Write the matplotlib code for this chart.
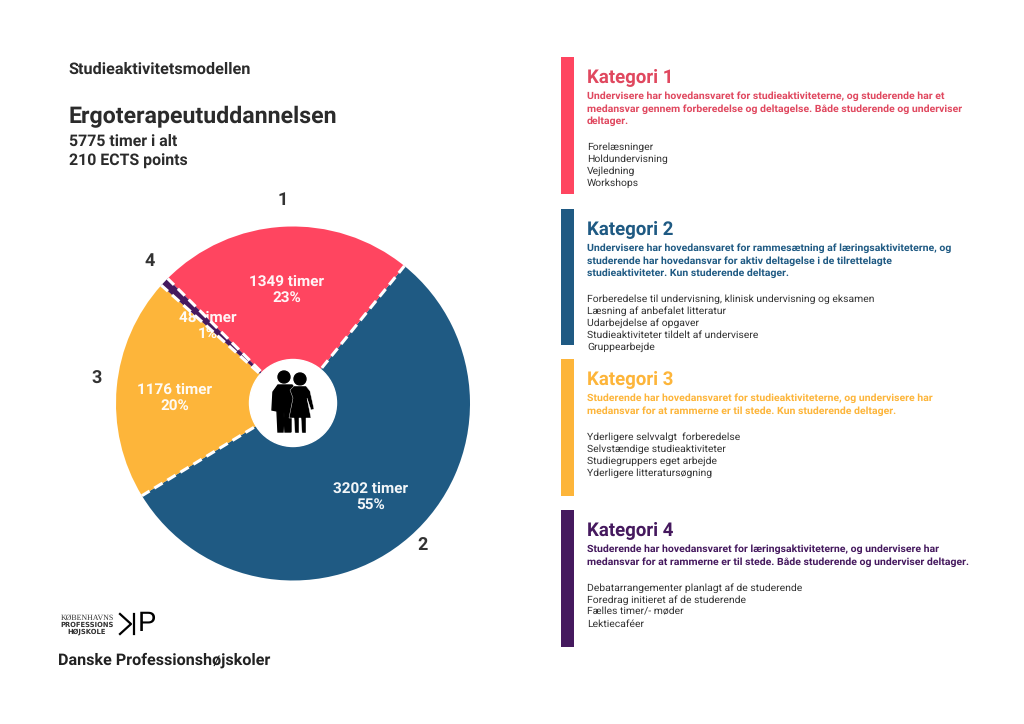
import matplotlib
matplotlib.use("Agg")
import matplotlib.pyplot as plt
from matplotlib.patches import Circle, Rectangle, Polygon
import numpy as np

plt.rcParams['font.family'] = ['Roboto', 'DejaVu Sans']
plt.rcParams['text.hinting'] = 'no_hinting'
plt.rcParams['text.hinting_factor'] = 8

# data
categories = ["1", "2", "3", "4"]
hours = [1349, 3202, 1176, 48]
colors = ["#FF4560", "#1F5A83", "#FDB53A", "#45195E"]
text_colors = ["#E0485F", "#1F5A83", "#FDB53A", "#45195E"]
headings = ["Kategori 1", "Kategori 2", "Kategori 3", "Kategori 4"]
descriptions = [
    ["Undervisere har hovedansvaret for studieaktiviteterne, og studerende har et",
     "medansvar gennem forberedelse og deltagelse. Både studerende og underviser",
     "deltager."],
    ["Undervisere har hovedansvaret for rammesætning af læringsaktiviteterne, og",
     "studerende har hovedansvar for aktiv deltagelse i de tilrettelagte",
     "studieaktiviteter. Kun studerende deltager."],
    ["Studerende har hovedansvaret for studieaktiviteterne, og undervisere har",
     "medansvar for at rammerne er til stede. Kun studerende deltager."],
    ["Studerende har hovedansvaret for læringsaktiviteterne, og undervisere har",
     "medansvar for at rammerne er til stede. Både studerende og underviser deltager."],
]
activities = [
    ["Forelæsninger", "Holdundervisning", "Vejledning", "Workshops"],
    ["Forberedelse til undervisning, klinisk undervisning og eksamen",
     "Læsning af anbefalet litteratur", "Udarbejdelse af opgaver",
     "Studieaktiviteter tildelt af undervisere", "Gruppearbejde"],
    ["Yderligere selvvalgt  forberedelse", "Selvstændige studieaktiviteter",
     "Studiegruppers eget arbejde", "Yderligere litteratursøgning"],
    ["Debatarrangementer planlagt af de studerende", "Foredrag initieret af de studerende",
     "Fælles timer/- møder", "Lektiecaféer"],
]

W, H = 1024, 724
cx, cy, r = 293, 403.5, 177

fig = plt.figure(figsize=(W / 100, H / 100), dpi=100, facecolor="white")

# pie axes sits exactly over the circle, overlay is in pixels
ax = fig.add_axes([(cx - r) / W, (H - cy - r) / H, 2 * r / W, 2 * r / H])
ov = fig.add_axes([0, 0, 1, 1], zorder=3)
ov.set_xlim(0, W)
ov.set_ylim(H, 0)
ov.axis("off")
ov.patch.set_alpha(0)

# clockwise from the 1/2 boundary
order = [1, 2, 3, 0]
start = 51
wedges, _ = ax.pie([hours[i] for i in order], colors=[colors[i] for i in order],
                   startangle=start, counterclock=False, radius=1)
ax.set_xlim(-1, 1)
ax.set_ylim(-1, 1)
wedges[2].set_zorder(5)

# dashed white boundaries
total = sum(hours)
ang = start
for i in order:
    t = np.deg2rad(ang)
    ax.plot([0, np.cos(t)], [0, np.sin(t)], color="white", lw=2.2,
            dashes=(3.2, 1.8), zorder=6)
    ang -= hours[i] / total * 360

# values in the slices
label_pos = [(287, 290), (371, 497), (175, 398), (208, 326)]
for i in range(4):
    pct = round(hours[i] / total * 100)
    ax.text(label_pos[i][0], label_pos[i][1], f"{hours[i]} timer\n{pct}%",
            transform=ov.transData, color="white", fontsize=11, fontweight="bold",
            ha="center", va="center", linespacing=1.15, alpha=0.95, zorder=4)

# slice numbers
num_pos = [(283, 200), (423, 545), (97, 379), (150, 261)]
for c, p in zip(categories, num_pos):
    ov.text(p[0], p[1], c, color="#333333", fontsize=13, fontweight="bold",
            ha="center", va="center")

# centre icon
ov.add_patch(Circle((293, 403), 43.5, color="white", zorder=2))
ink = "black"
ov.add_patch(Circle((284, 377), 6, color=ink, zorder=3))
ov.add_patch(Circle((300, 379), 6, color=ink, zorder=3))
ov.add_patch(Polygon([(272, 410), (273, 392), (278, 385), (292, 385), (296, 390), (291, 405),
                      (291, 432), (285, 432), (284, 412), (283, 432), (278, 432), (277, 411)],
                     color=ink, zorder=3))
ov.add_patch(Polygon([(290, 390), (294, 386), (306, 386), (310, 391), (314, 409), (311, 410),
                      (307, 398), (311, 418), (306, 418), (306, 433), (302, 433), (301, 418),
                      (299, 418), (299, 433), (295, 433), (294, 418), (289, 418), (293, 398)],
                     color=ink, zorder=3, ec="white", lw=0.3))

# headings left
dark = "#2B2B2B"
ov.text(68.5, 69.5, "Studieaktivitetsmodellen", color=dark, fontsize=11.7, fontweight="bold", va="center")
ov.text(68.5, 116.5, "Ergoterapeutuddannelsen", color=dark, fontsize=16.7, fontweight="bold", va="center")
ov.text(69, 141.5, "5775 timer i alt", color=dark, fontsize=11.4, fontweight="bold", va="center")
ov.text(69, 161.5, "210 ECTS points", color=dark, fontsize=11.4, fontweight="bold", va="center")

# logos
ov.text(87, 619.5, "KØBENHAVNS", family="Liberation Serif", color="#333333", fontsize=5.7, ha="center", va="baseline")
ov.text(87, 626.5, "PROFESSIONS", family="DejaVu Sans", color="#333333", fontsize=4.9, fontweight="bold", ha="center", va="baseline")
ov.text(87, 633.5, "HØJSKOLE", family="DejaVu Sans", color="#333333", fontsize=4.9, fontweight="bold", ha="center", va="baseline")
ov.plot([134, 134], [614, 634], color="black", lw=1.6)
ov.plot([120, 131, 120], [614, 624, 634], color="black", lw=1.6)
ov.text(138, 624, "P", family="Liberation Sans", color="black", fontsize=20, ha="left", va="center")
ov.text(58, 660, "Danske Professionshøjskoler", color="#222222", fontsize=11.6, fontweight="bold", va="center")

# category panels
bar_top = [57, 209, 359, 510]
bar_bottom = [194, 345, 496, 647]
for i in range(4):
    ov.add_patch(Rectangle((561, bar_top[i]), 13, bar_bottom[i] - bar_top[i], color=colors[i], lw=0))
    ov.text(587, bar_top[i] + 20, headings[i], color=text_colors[i], fontsize=13.4, fontweight="bold", va="center")
    y = bar_top[i] + 39.5
    for line in descriptions[i]:
        ov.text(587, y, line, color=text_colors[i], fontsize=7.52, fontweight="bold", va="center")
        y += 12.3
    y += 13.9
    for line in activities[i]:
        ov.text(587, y, line, color="#333333", fontsize=7.5, va="center")
        y += 12

fig.savefig("out.png", dpi=100, facecolor="white")
